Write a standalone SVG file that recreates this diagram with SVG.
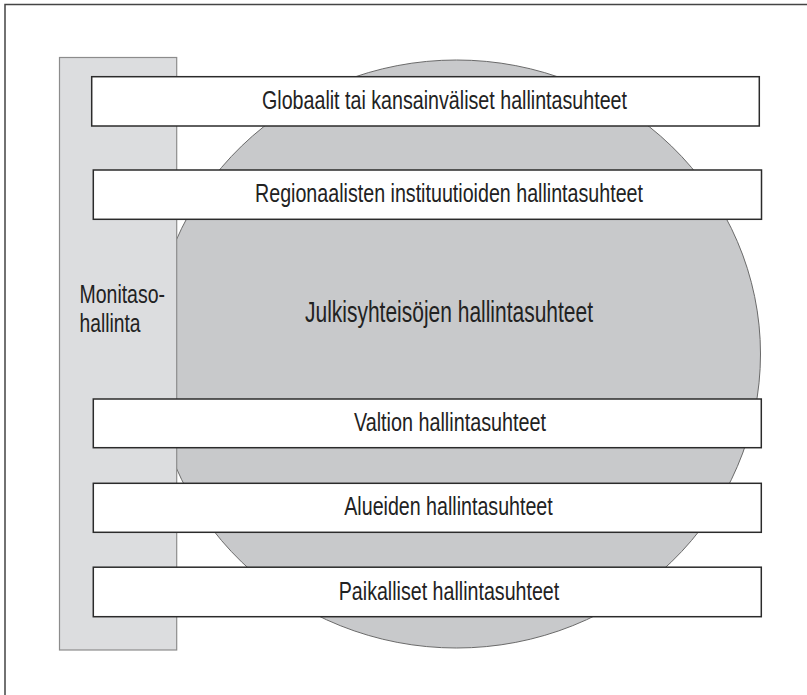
<svg xmlns="http://www.w3.org/2000/svg" width="807" height="695" viewBox="0 0 807 695">
  <style>
    .frame { fill: #ffffff; stroke: #444444; stroke-width: 1.5; }
    .sphere { fill: #c8c9cb; stroke: #6a6a6a; stroke-width: 1; }
    .bar { fill: #dcdddf; stroke: #8c8c8c; stroke-width: 1.2; }
    .level { fill: #ffffff; stroke: #2b2b2b; stroke-width: 1.5; }
    text { font-family: "Liberation Sans Narrow", "Liberation Sans", Arial, sans-serif; fill: #222222; }
    .lbl { font-size: 26px; text-anchor: middle; }
    .big { font-size: 29.5px; text-anchor: middle; }
    .side { font-size: 26px; }
  </style>

  <!-- outer frame (open towards the right and bottom edges) -->
  <rect class="frame" x="5" y="4.5" width="820" height="720"/>

  <!-- public-sector relations: large ellipse behind everything -->
  <g id="julkisyhteisot">
    <ellipse class="sphere" cx="456.5" cy="354" rx="304" ry="294"/>
    <text class="big" x="449" y="321.5" textLength="288" lengthAdjust="spacingAndGlyphs">Julkisyhteisöjen hallintasuhteet</text>
  </g>

  <!-- multi-level governance column -->
  <g id="monitasohallinta">
    <rect class="bar" x="59.5" y="57.5" width="117.2" height="592.5"/>
    <text class="side" x="79.5" y="303.3" textLength="85.5" lengthAdjust="spacingAndGlyphs">Monitaso-</text>
    <text class="side" x="79.5" y="331.5" textLength="61" lengthAdjust="spacingAndGlyphs">hallinta</text>
  </g>

  <!-- governance levels -->
  <g id="globaalit">
    <rect class="level" x="91.7" y="76.7" width="667.6" height="49.3"/>
    <text class="lbl" x="444.5" y="108.5" textLength="365" lengthAdjust="spacingAndGlyphs">Globaalit tai kansainväliset hallintasuhteet</text>
  </g>
  <g id="regionaaliset">
    <rect class="level" x="93.3" y="170" width="668.2" height="49.3"/>
    <text class="lbl" x="449" y="202.3" textLength="388" lengthAdjust="spacingAndGlyphs">Regionaalisten instituutioiden hallintasuhteet</text>
  </g>
  <g id="valtio">
    <rect class="level" x="93.3" y="399" width="668" height="48.7"/>
    <text class="lbl" x="450" y="431" textLength="192" lengthAdjust="spacingAndGlyphs">Valtion hallintasuhteet</text>
  </g>
  <g id="alueet">
    <rect class="level" x="93.3" y="483.3" width="668" height="49"/>
    <text class="lbl" x="448.5" y="515.3" textLength="208.5" lengthAdjust="spacingAndGlyphs">Alueiden hallintasuhteet</text>
  </g>
  <g id="paikalliset">
    <rect class="level" x="93.3" y="567.2" width="668" height="49.5"/>
    <text class="lbl" x="449" y="599.5" textLength="220.5" lengthAdjust="spacingAndGlyphs">Paikalliset hallintasuhteet</text>
  </g>

  <!-- no connectors in this diagram -->
  <g id="connectors"/>
</svg>
